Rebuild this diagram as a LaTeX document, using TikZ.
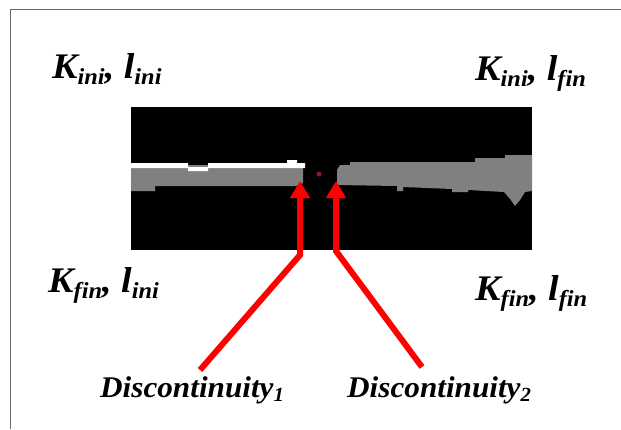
\documentclass[tikz,border=0pt]{standalone}
\usepackage{fontspec}
\setmainfont{Liberation Serif}
\usetikzlibrary{arrows.meta}
\definecolor{framegray}{RGB}{105,105,105}
\definecolor{bandgray}{RGB}{128,128,128}
\definecolor{arrowred}{RGB}{255,0,0}
\definecolor{dotred}{RGB}{150,20,40}
\newcommand{\lowsub}[3]{\raisebox{-#2}{\fontsize{#3}{#3}\selectfont #1}}
\tikzset{
  biglabel/.style={anchor=base west, inner sep=0pt, xscale=1.06,
    font=\fontsize{36}{36}\selectfont\bfseries\itshape},
  disclabel/.style={anchor=base west, inner sep=0pt, xscale=1.04,
    font=\fontsize{30}{30}\selectfont\bfseries\itshape},
  pointer/.style={draw=arrowred, line width=6pt, line join=miter,
    -{Triangle[length=17pt,width=19pt]}},
}
\begin{document}
\begin{tikzpicture}[x=1pt,y=-1pt]
\useasboundingbox (0,0) rectangle (621,429);
% open frame: top and left edges only
\draw[framegray, line width=1.6pt] (621,9.5) -- (10.5,9.5) -- (10.5,429);

% dark image panel
\fill[black] (131,107) rectangle (532,250);
% left grey band
\fill[bandgray] (131,165) -- (303,165) -- (303,183) -- (296,186) -- (155,186)
  -- (155,191) -- (131,191) -- cycle;
% white ridge on the left band
\fill[white] (131,163) -- (188,163) -- (188,167) -- (208,167) -- (208,163)
  -- (287,163) -- (287,160) -- (297,160) -- (297,163) -- (305,163) -- (305,168)
  -- (208,168) -- (208,171) -- (188,171) -- (188,168) -- (131,168) -- cycle;
% right grey band with its drip
\fill[bandgray] (337,170) -- (340,165) -- (350,165) -- (350,162) -- (475,162)
  -- (475,158) -- (505,158) -- (505,155) -- (532,155) -- (532,191) -- (525,192)
  -- (520,200) -- (515,206) -- (510,199) -- (504,192) -- (468,190) -- (468,192)
  -- (452,192) -- (452,189) -- (403,187) -- (403,191) -- (397,191) -- (397,186)
  -- (337,185) -- cycle;
% small red mark in the gap
\fill[dotred] (319,174) circle (2.5pt);

% corner labels
\node[biglabel] (kil) at (52,78) {K\lowsub{ini}{6pt}{23}, l\lowsub{ini}{6pt}{23}};
\node[biglabel] (kif) at (475,80) {K\lowsub{ini}{6pt}{23}, l\lowsub{fin}{6pt}{23}};
\node[biglabel] (kfl) at (48,292) {K\lowsub{fin}{6pt}{23}, l\lowsub{ini}{6pt}{23}};
\node[biglabel] (kff) at (475,300) {K\lowsub{fin}{6pt}{23}, l\lowsub{fin}{6pt}{23}};

% discontinuity labels
\node[disclabel] (d1) at (100,397) {Discontinuity\lowsub{1}{4pt}{20}};
\node[disclabel] (d2) at (347,397) {Discontinuity\lowsub{2}{4pt}{20}};

% arrow anchor points
\coordinate (t1) at (200,370);
\coordinate (b1) at (300,255);
\coordinate (h1) at (300,181);
\coordinate (t2) at (422,367);
\coordinate (b2) at (336,251);
\coordinate (h2) at (336,181);

\draw[pointer] (t1) -- (b1) -- (h1);
\draw[pointer] (t2) -- (b2) -- (h2);
\end{tikzpicture}
\end{document}
